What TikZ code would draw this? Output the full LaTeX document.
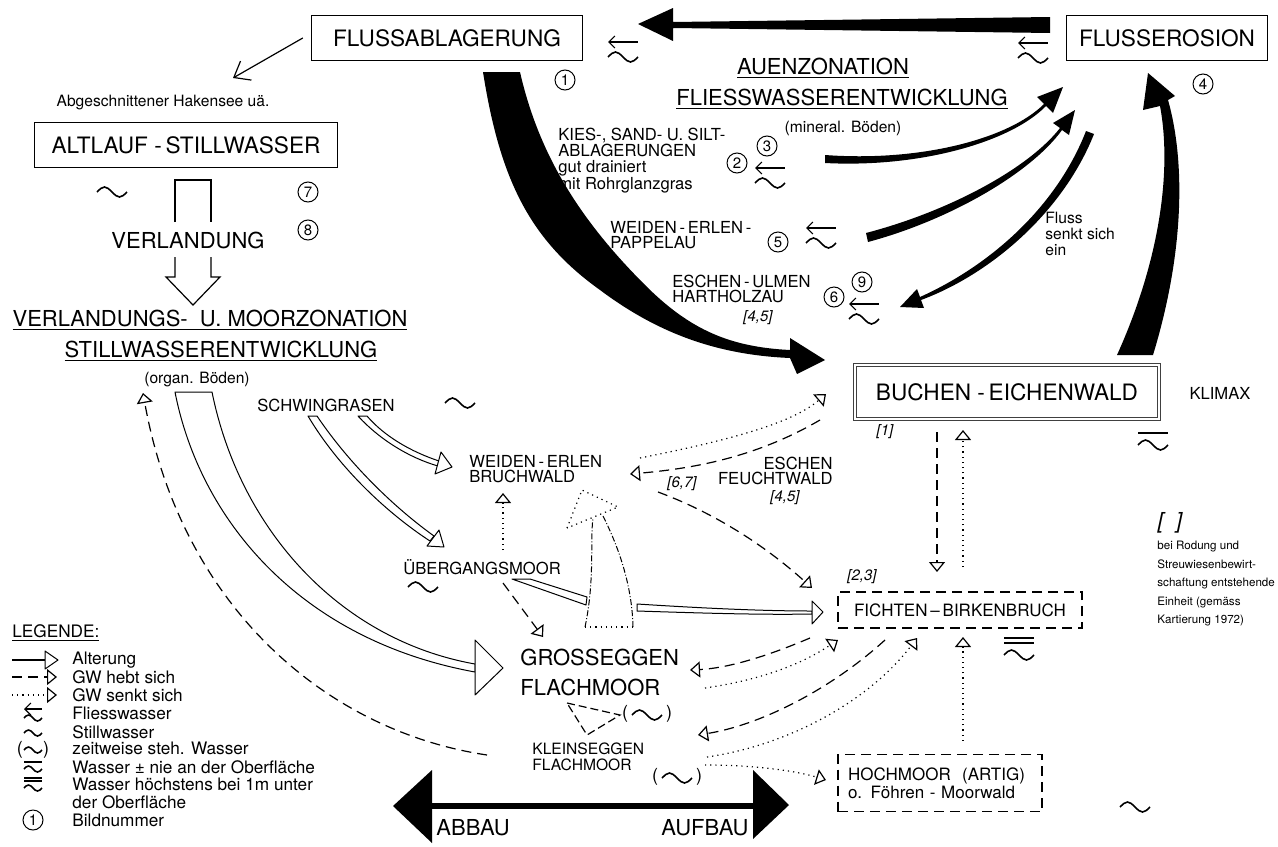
\documentclass[tikz,border=0pt]{standalone}
\usepackage{fontspec}
\setmainfont{TeX Gyre Heros}
\usetikzlibrary{arrows.meta,positioning}

\tikzstyle{kasten} = [draw=black, line width=0.7pt, rectangle, inner sep=0pt, minimum height=22.5pt, font=\fontsize{11.3}{13}\selectfont]
\tikzstyle{strichkasten} = [draw=black, line width=0.6pt, dash pattern=on 5pt off 3pt, rectangle, inner sep=0pt, font=\fontsize{8.5}{8.8}\selectfont]
\tikzstyle{titel} = [font=\fontsize{11}{13}\selectfont, inner sep=0pt]
\tikzstyle{einheit} = [font=\fontsize{8.3}{7.8}\selectfont, align=left, inner sep=0pt]
\tikzstyle{klein} = [font=\fontsize{7.8}{8}\selectfont, align=left, inner sep=0pt]
\tikzstyle{bild} = [circle, draw, line width=0.5pt, inner sep=0pt, minimum size=10pt, font=\fontsize{7.5}{8}\selectfont]
\tikzstyle{eckig} = [font=\fontsize{7.5}{8}\itshape, inner sep=0pt]
\tikzstyle{legtext} = [font=\fontsize{8.6}{9}\selectfont, anchor=west, inner sep=0pt]
\tikzstyle{alterung} = [draw=black, fill=white, line width=0.5pt, line join=round]
\tikzstyle{hebt} = [line width=0.6pt, dash pattern=on 5pt off 3pt, -{Triangle[open,length=5pt,width=8pt]}]
\tikzstyle{senkt} = [line width=0.6pt, dotted, -{Triangle[open,length=5pt,width=8pt]}]

\newcommand{\welle}{\draw[line width=0.8pt] (-15,0) sin (-7.5,-5) cos (0,0) sin (7.5,5) cos (15,0);}
\tikzset{
  stillw/.pic={\welle},
  fliessw/.pic={\draw[line width=0.6pt, {Straight Barb[length=3pt,width=6pt]}-] (-15,-15) -- (15,-15); \welle},
  obenw/.pic={\draw[line width=0.7pt] (-15,-12) -- (15,-12); \welle},
  doppelw/.pic={\draw[line width=0.7pt] (-15,-17) -- (15,-17) (-15,-12) -- (15,-12); \welle},
  zeitw/.pic={\node[font=\fontsize{9}{9}\selectfont] at (-22,-1) {(}; \node[font=\fontsize{9}{9}\selectfont] at (22,-1) {)}; \welle}
}

\begin{document}
\begin{tikzpicture}[x=0.5pt, y=-0.5pt]
\useasboundingbox (0,0) rectangle (1278,846);

\node[kasten, minimum width=135.5pt] (ablag) at (447,38) {FLUSSABLAGERUNG};
\node[kasten, minimum width=100.5pt] (erosion) at (1167,38) {FLUSSEROSION};
\node[kasten, minimum width=151.5pt] (altlauf) at (186,145) {ALTLAUF\ -\,STILLWASSER};
\node[kasten, minimum width=152pt, minimum height=27pt, draw=black!75, double=white, double distance=0.8pt, line width=0.5pt] (buchen) at (1007,392) {BUCHEN\ -\,EICHENWALD};
\node[strichkasten, minimum width=122pt, minimum height=18pt] (fichten) at (960,610) {FICHTEN\,--\,BIRKENBRUCH};
\node[strichkasten, minimum width=102pt, minimum height=28.5pt, align=left, text width=92pt] (hochmoor) at (940,783) {HOCHMOOR\ \ (ARTIG)\\o. Föhren - Moorwald};

\node[klein] (hakensee) at (163,103) {Abgeschnittener Hakensee uä.};
\node[titel] (auen) at (823,68) {\underline{AUENZONATION}};
\node[titel] (fliessentw) at (842,99) {\underline{FLIESSWASSERENTWICKLUNG}};
\node[klein] (mineral) at (843,128) {(mineral. Böden)};
\node[einheit, anchor=west] (kies) at (558,161) {KIES-, SAND- U. SILT-\\ABLAGERUNGEN\\gut drainiert\\mit Rohrglanzgras};
\node[einheit, anchor=west] (pappelau) at (610,235) {WEIDEN\,-\,ERLEN\,-\\PAPPELAU};
\node[einheit, anchor=west] (hartholz) at (672,289) {ESCHEN\,-\,ULMEN\\HARTHOLZAU};
\node[eckig] (k45a) at (758,318) {[4,5]};
\node[klein, anchor=west] (fluss) at (1045,234) {Fluss\\senkt sich\\ein};
\node[einheit] (klimax) at (1220,393) {KLIMAX};
\node[eckig] (k1) at (885,432) {[1]};
\node[eckig] (k23) at (862,577) {[2,3]};
\node[eckig] (k67) at (682,484) {[6,7]};
\node[eckig, font=\fontsize{11}{12}\itshape] (kl) at (1170,523) {[\ \ ]};
\node[anchor=west, align=left, inner sep=0pt, font=\fontsize{5.8}{9.25}\selectfont] (rodung) at (1157,584) {bei Rodung und\\Streuwiesenbewirt-\\schaftung entstehende\\Einheit (gemäss\\Kartierung 1972)};

\node[titel] (verlandung) at (188,240) {VERLANDUNG};
\node[titel] (moorzon) at (210,320) {\underline{VERLANDUNGS-\ \ U.\ MOORZONATION}};
\node[titel] (stillentw) at (221,351) {\underline{STILLWASSERENTWICKLUNG}};
\node[klein] (organ) at (197,380) {(organ. Böden)};
\node[einheit, anchor=west] (schwing) at (257,405) {SCHWINGRASEN};
\node[einheit, anchor=west] (bruchwald) at (469,469) {WEIDEN\,-\,ERLEN\\BRUCHWALD};
\node[einheit, anchor=east, align=right] (feucht) at (833,471) {ESCHEN\\FEUCHTWALD};
\node[eckig] (k45b) at (785,498) {[4,5]};
\node[einheit, anchor=west] (uebergang) at (403,567) {ÜBERGANGSMOOR};
\node[titel, anchor=west, align=left, font=\fontsize{11}{15}\selectfont] (gross) at (520,672) {GROSSEGGEN\\FLACHMOOR};
\node[klein, anchor=west] (kleinsegg) at (532,757) {KLEINSEGGEN\\FLACHMOOR};
\node[titel, anchor=west] (abbau) at (436,828) {ABBAU};
\node[titel, anchor=east] (aufbau) at (749,828) {AUFBAU};

\node[bild] (b1) at (565,80) {1};
\node[bild] (b2) at (737,163) {2};
\node[bild] (b3) at (767,146) {3};
\node[bild] (b4) at (1203,84) {4};
\node[bild] (b5) at (778,242) {5};
\node[bild] (b6) at (834,297) {6};
\node[bild] (b9) at (862,282) {9};
\node[bild] (b7) at (308,192) {7};
\node[bild] (b8) at (308,230) {8};

\pic at (623,57) {fliessw};
\pic at (1033,58) {fliessw};
\pic at (770,183) {fliessw};
\pic at (821,243) {fliessw};
\pic at (864,319) {fliessw};
\pic at (112,192) {stillw};
\pic at (460,403) {stillw};
\pic at (423,587) {stillw};
\pic at (1135,807) {stillw};
\pic at (1153,445) {obenw};
\pic at (1019,655) {doppelw};
\pic at (647,715) {zeitw};
\pic at (677,778) {zeitw};

% grosse schwarze Pfeile
\fill (1050,17) -- (673,22) -- (673,8) -- (638,24) -- (673,41) -- (673,28) -- (1050,33) -- cycle;
\fill (483,72) .. controls (500,180) and (530,240) .. (600,290) .. controls (660,335) and (720,355) .. (790,358) -- (797,374) -- (825,360) -- (790,338) -- (790,350) .. controls (730,347) and (690,330) .. (645,285) .. controls (585,225) and (540,160) .. (520,72) -- cycle;
\fill (1153,355) .. controls (1185,250) and (1185,160) .. (1168,100) -- (1175,96) -- (1148,73) -- (1143,110) -- (1160,106) .. controls (1172,170) and (1160,260) .. (1117,355) -- cycle;
\fill (825,155) .. controls (920,162) and (1009,139) .. (1044,104) -- (1037,97) -- (1063,87) -- (1053,113) -- (1046,106) .. controls (1011,142) and (920,168) .. (825,163) -- cycle;
\fill (866,233) .. controls (950,211) and (1029,168) .. (1060,128) -- (1053,123) -- (1075,110) -- (1069,135) -- (1062,130) .. controls (1031,173) and (950,220) .. (868,242) -- cycle;
\fill (1094,134) .. controls (1063,212) and (991,274) .. (921,300) -- (924,308) -- (900,307) -- (917,289) -- (920,297) .. controls (989,266) and (1056,208) .. (1086,131) -- cycle;

\draw[line width=0.6pt, -{Straight Barb[length=7pt,width=11pt]}] ([xshift=-4pt]ablag.west) -- (233,78);
\draw[line width=0.6pt] (175,222) -- (175,180) -- (211,180) -- (211,222);
\draw[line width=0.6pt] (175,257) -- (175,277) -- (166,277) -- (193,305) -- (220,277) -- (211,277) -- (211,257);

% Alterung
\draw[alterung] (175,392) .. controls (200,520) and (300,640) .. (475,672) -- (475,664) .. controls (340,640) and (240,530) .. (212,392) -- cycle;
\draw[alterung] (475,640) -- (503,668) -- (475,695) -- cycle;
\draw[alterung] (308,416) .. controls (340,470) and (390,515) .. (430,541) -- (434,536) .. controls (395,508) and (350,465) .. (317,416) -- cycle;
\draw[alterung] (427,546) -- (444,547) -- (439,530) -- cycle;
\draw[alterung] (358,416) .. controls (380,440) and (410,458) .. (438,466) -- (439,461) .. controls (412,452) and (385,437) .. (367,416) -- cycle;
\draw[alterung] (435,474) -- (452,467) -- (441,452) -- cycle;
\draw[alterung] (512,579) -- (530,579) -- (587,597) -- (586,605) -- cycle;
\draw[alterung] (637,604) .. controls (700,608) and (760,611) .. (812,611) -- (812,614) .. controls (760,615) and (700,613) .. (637,611) -- cycle;
\draw[alterung] (812,601) -- (823,612) -- (812,624) -- cycle;

% GW senkt sich / hebt sich
\draw[line width=0.5pt, dash pattern=on 3pt off 1pt on 0.5pt off 1pt] (585,627) .. controls (595,580) and (590,540) .. (593,518);
\draw[line width=0.5pt, dash pattern=on 3pt off 1pt on 0.5pt off 1pt] (633,627) .. controls (632,580) and (615,540) .. (603,516);
\draw[line width=0.6pt, dotted] (585,627) -- (633,627);
\draw[line width=0.6pt, dotted] (567,528) -- (582,490) -- (618,507) -- cycle;
\draw[line width=0.6pt, dash pattern=on 4pt off 2pt] (567,703) -- (620,715) -- (587,735) -- cycle;
\draw[senkt] (503,550) -- (503,493);
\draw[hebt] (503,583) -- (543,637);
\draw[senkt] (640,458) .. controls (720,442) and (790,425) .. (826,394);
\draw[hebt] (820,420) .. controls (760,455) and (700,468) .. (630,474);
\draw[hebt] (658,492) .. controls (720,515) and (770,550) .. (812,588);
\draw[hebt] (937,432) -- (937,572);
\draw[senkt] (963,567) -- (963,430);
\draw[hebt] (810,638) .. controls (770,655) and (730,668) .. (690,670);
\draw[senkt] (705,688) .. controls (760,680) and (800,665) .. (838,640);
\draw[hebt] (885,640) .. controls (830,690) and (760,725) .. (698,735);
\draw[senkt] (707,757) .. controls (790,745) and (870,700) .. (917,638);
\draw[senkt] (705,765) .. controls (760,765) and (800,772) .. (826,780);
\draw[senkt] (hochmoor.north -| 963,0) ++(0,-13) -- (963,637);
\draw[hebt] (487,755) .. controls (320,730) and (180,600) .. (143,393);

% Abbau / Aufbau
\fill (430,803) rectangle (753,809);
\fill (432,770) -- (393,806) -- (432,843) -- cycle;
\fill (753,770) -- (789,805) -- (753,839) -- cycle;

% Legende
\node[legtext] (legende) at (12,633) {\underline{LEGENDE:}};
\draw[line width=0.9pt] (12,660) -- (45,660);
\draw[alterung] (45,651) -- (58,660) -- (45,669) -- cycle;
\draw[hebt] (12,677) -- (57,677);
\draw[senkt] (12,695) -- (57,695);
\pic[scale=0.6] at (33,718) {fliessw};
\pic[scale=0.6] at (33,733) {stillw};
\pic[scale=0.6] at (33,750) {zeitw};
\pic[scale=0.6] at (33,769) {obenw};
\pic[scale=0.6] at (33,788) {doppelw};
\node[bild] (lb1) at (33,820) {1};
\node[legtext] (l1) at (72,660) {Alterung};
\node[legtext] (l2) at (72,677) {GW hebt sich};
\node[legtext] (l3) at (72,695) {GW senkt sich};
\node[legtext] (l4) at (72,713) {Fliesswasser};
\node[legtext] (l5) at (72,732) {Stillwasser};
\node[legtext] (l6) at (72,748) {zeitweise steh. Wasser};
\node[legtext] (l7) at (72,767) {Wasser ± nie an der Oberfläche};
\node[legtext] (l8) at (72,784) {Wasser höchstens bei 1m unter};
\node[legtext] (l9) at (72,802) {der Oberfläche};
\node[legtext] (l10) at (72,820) {Bildnummer};
\end{tikzpicture}
\end{document}
